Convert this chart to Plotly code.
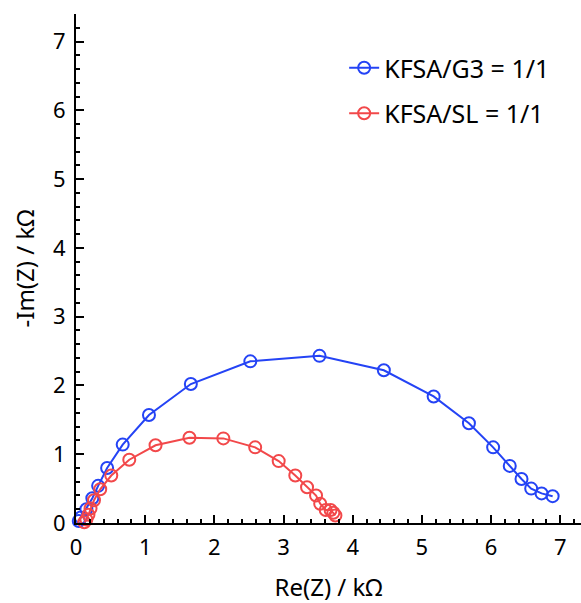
import plotly.graph_objects as go

# Nyquist data (kOhm)
g3_re = [0.04, 0.07, 0.15, 0.236, 0.32, 0.45, 0.675, 1.055, 1.66, 2.52, 3.52, 4.45,
         5.17, 5.68, 6.03, 6.27, 6.44, 6.58, 6.73, 6.89]
g3_im = [0.03, 0.08, 0.20, 0.36, 0.54, 0.80, 1.14, 1.57, 2.02, 2.35, 2.43, 2.22,
         1.84, 1.45, 1.10, 0.83, 0.64, 0.50, 0.43, 0.39]

sl_re = [0.12, 0.15, 0.18, 0.21, 0.26, 0.35, 0.51, 0.77, 1.15, 1.64, 2.13, 2.59,
         2.93, 3.17, 3.34, 3.47, 3.53, 3.61, 3.68, 3.72, 3.75]
sl_im = [0.01, 0.05, 0.12, 0.21, 0.33, 0.49, 0.69, 0.92, 1.13, 1.24, 1.23, 1.10,
         0.90, 0.69, 0.52, 0.40, 0.28, 0.19, 0.19, 0.15, 0.11]

series_names = ["KFSA/G3 = 1/1", "KFSA/SL = 1/1"]
series_colors = ["#2443F5", "#F2484A"]

FONT = "Noto Sans"

fig = go.Figure()
for i, (xs, ys) in enumerate([(g3_re, g3_im), (sl_re, sl_im)]):
    fig.add_trace(go.Scatter(
        x=xs, y=ys, mode="lines+markers", name=series_names[i],
        legendgroup=f"g{i}",
        line=dict(color=series_colors[i], width=2),
        marker=dict(symbol="circle-open", size=12, color=series_colors[i],
                    line=dict(width=2, color=series_colors[i])),
        cliponaxis=False,
    ))

axis_common = dict(
    showline=True, linecolor="black", linewidth=2,
    ticks="inside", ticklen=8, tickwidth=2, tickcolor="black",
    dtick=1, tick0=0, showgrid=False, zeroline=False,
    tickfont=dict(family=FONT, size=22, color="black"),
    minor=dict(ticks="inside", ticklen=4, tickwidth=1.5, tickcolor="black", dtick=0.2),
)

fig.update_layout(
    width=581, height=603,
    margin=dict(l=76, r=0, t=14, b=80),
    plot_bgcolor="white", paper_bgcolor="white",
    xaxis=dict(range=[0, 7.3], ticklabelstandoff=4,
               title=dict(text="Re(Z) / kΩ", standoff=20,
                          font=dict(family=FONT, size=24, color="black")),
               **axis_common),
    yaxis=dict(range=[0, 7.4], ticklabelstandoff=4,
               title=dict(text="-Im(Z) / kΩ", standoff=12,
                          font=dict(family=FONT, size=24, color="black")),
               **axis_common),
    legend=dict(x=0.531, y=0.939, xanchor="left", yanchor="top",
                bgcolor="rgba(0,0,0,0)", tracegroupgap=10,
                font=dict(family=FONT, size=25, color="black")),
    showlegend=True,
)

fig.write_html("out.html")
